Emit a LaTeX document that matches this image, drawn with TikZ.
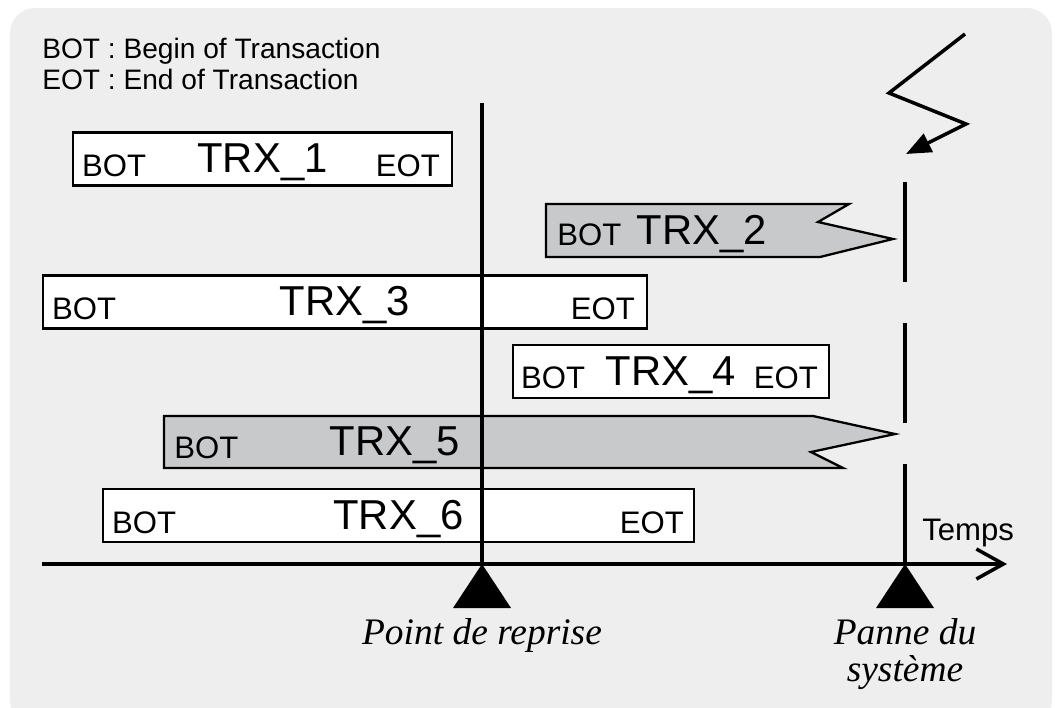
\documentclass[tikz,border=0pt]{standalone}
\usepackage{fontspec}
\setmainfont{Liberation Sans}
\newfontfamily\serifit{Liberation Serif}
\usetikzlibrary{positioning,arrows.meta}
\definecolor{bggray}{HTML}{EDEEED}
\definecolor{abortgray}{HTML}{C8C9CB}
\newcommand{\trxfont}{\fontsize{23.8}{26}\selectfont}
\newcommand{\tagfont}{\fontsize{17.7}{20}\selectfont}

\begin{document}
\begin{tikzpicture}
\tikzstyle{trx}=[draw, line width=1.3pt, fill=white, inner sep=0pt, text height=0.8cm, text depth=0.26cm, font=\trxfont]
\tikzstyle{abort}=[draw, line width=1.3pt, fill=abortgray]
\tikzstyle{tag}=[inner sep=0pt, font=\tagfont]
\tikzstyle{bigtag}=[inner sep=0pt, anchor=base, font=\trxfont]
\tikzstyle{legend}=[inner sep=0pt, anchor=base west, font=\fontsize{16}{18}\selectfont]
\tikzstyle{event}=[inner sep=0pt, anchor=base, align=center, font=\fontsize{21.3}{21}\serifit\itshape]
\tikzstyle{thick line}=[line width=2pt]
\useasboundingbox (0,0) rectangle (21.1,-14.14);
\fill[bggray, rounded corners=0.5cm] (0.2,-0.16) rectangle (21.04,-14.5);
% legende
\node[legend] (leg1) at (0.84,-1.16) {BOT : Begin of Transaction};
\node[legend] (leg2) at (0.84,-1.78) {EOT : End of Transaction};
% transactions terminees
\node[trx, minimum width=7.58cm] (t1) at (5.25,-3.18) {TRX\_1};
\node[tag, anchor=base west] (t1bot) at ([shift={(0.2,0.2)}]t1.south west) {BOT};
\node[tag, anchor=base east] (t1eot) at ([shift={(-0.26,0.2)}]t1.south east) {EOT};
\node[trx, minimum width=12.08cm] (t3) at (6.9,-6.04) {TRX\_3};
\node[tag, anchor=base west] (t3bot) at ([shift={(0.2,0.2)}]t3.south west) {BOT};
\node[tag, anchor=base east] (t3eot) at ([shift={(-0.26,0.2)}]t3.south east) {EOT};
\node[trx, minimum width=6.32cm] (t4) at (13.42,-7.43) {TRX\_4};
\node[tag, anchor=base west] (t4bot) at ([shift={(0.18,0.22)}]t4.south west) {BOT};
\node[tag, anchor=base east] (t4eot) at ([shift={(-0.24,0.22)}]t4.south east) {EOT};
\node[trx, minimum width=11.82cm] (t6) at (7.97,-10.31) {TRX\_6};
\node[tag, anchor=base west] (t6bot) at ([shift={(0.2,0.2)}]t6.south west) {BOT};
\node[tag, anchor=base east] (t6eot) at ([shift={(-0.22,0.2)}]t6.south east) {EOT};
% transactions interrompues
\draw[abort] (10.92,-4.08) -- (16.98,-4.08) -- (16.36,-4.44) -- (17.86,-4.78) -- (16.40,-5.14) -- (10.92,-5.14) -- cycle;
\node[bigtag] (t2) at (14.04,-4.88) {TRX\_2};
\node[tag, anchor=base west] (t2bot) at (11.14,-4.90) {BOT};
\draw[abort] (3.28,-8.32) -- (16.26,-8.32) -- (17.90,-8.68) -- (16.22,-9.04) -- (16.86,-9.36) -- (3.28,-9.36) -- cycle;
\node[bigtag] (t5) at (7.90,-9.10) {TRX\_5};
\node[tag, anchor=base west] (t5bot) at (3.48,-9.16) {BOT};
% axe du temps
\coordinate (t0) at (0.84,-11.28);
\coordinate (tmax) at (20.14,-11.28);
\coordinate (reprise) at (9.64,-11.28);
\coordinate (panne) at (18.10,-11.28);
\coordinate (reptop) at (9.64,-2.06);
\coordinate (pantop) at (18.10,-3.64);
\draw[thick line] (reprise) -- (reptop);
\draw[thick line, dash pattern=on 2cm off 0.82cm] (panne) -- (pantop);
\draw[thick line, -{Straight Barb[length=0.54cm, width=0.6cm]}] (t0) -- (tmax);
\fill (reprise) -- ++(-0.58,-0.88) -- ++(1.16,0) -- cycle;
\fill (panne) -- ++(-0.58,-0.88) -- ++(1.16,0) -- cycle;
\node[tag, anchor=base west] (temps) at (18.44,-10.80) {Temps};
\node[event] (replbl) at (9.64,-12.88) {Point de reprise};
\node[event] (panlbl) at (18.10,-13.62) {Panne du\\système};
% eclair
\coordinate (b1) at (19.30,-0.68);
\coordinate (b2) at (17.78,-1.86);
\coordinate (b3) at (19.32,-2.48);
\coordinate (b4) at (18.12,-3.08);
\draw[thick line, -{Triangle[length=0.5cm, width=0.4cm]}] (b1) -- (b2) -- (b3) -- (b4);
\end{tikzpicture}
\end{document}
